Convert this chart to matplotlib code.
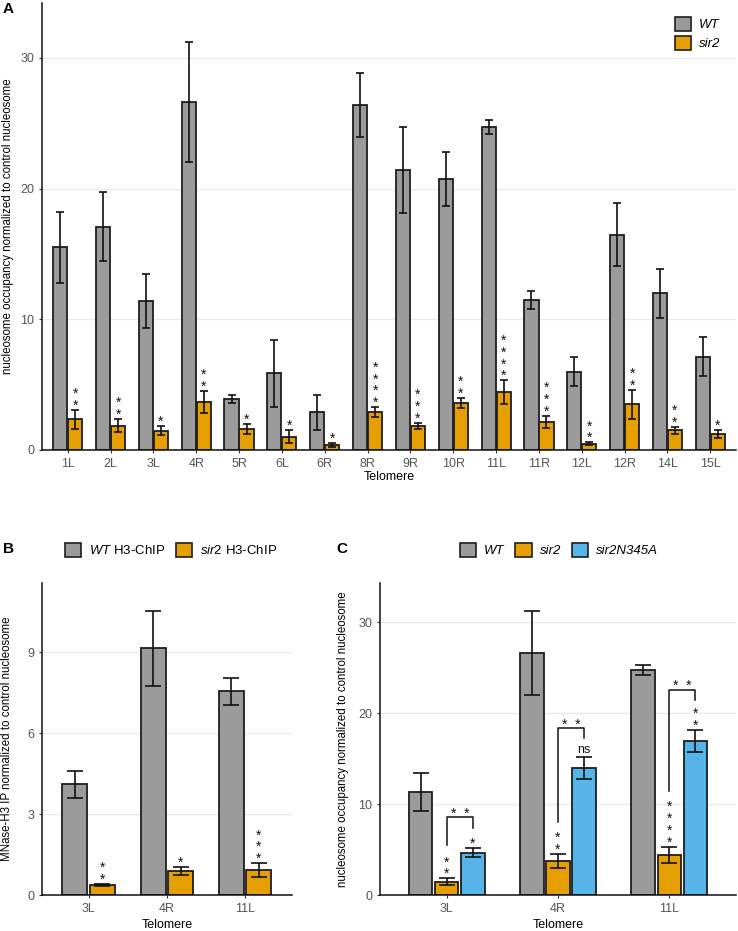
import matplotlib
matplotlib.use("Agg")
import matplotlib.pyplot as plt
import numpy as np
from matplotlib.patches import Patch

plt.rcParams['font.family'] = ['Liberation Sans', 'DejaVu Sans']
plt.rcParams['mathtext.fontset'] = 'custom'
plt.rcParams['mathtext.it'] = 'Liberation Sans:italic'
plt.rcParams['mathtext.rm'] = 'Liberation Sans'

# ---------------- Panel A data ----------------
a_cats = ["1L", "2L", "3L", "4R", "5R", "6L", "6R", "8R", "9R", "10R", "11L", "11R", "12L", "12R", "14L", "15L"]
a_wt = [15.5, 17.1, 11.4, 26.6, 3.88, 5.87, 2.89, 26.4, 21.44, 20.75, 24.73, 11.46, 5.97, 16.46, 12.0, 7.15]
a_wt_err = [2.7, 2.67, 2.05, 4.6, 0.31, 2.58, 1.33, 2.48, 3.27, 2.07, 0.54, 0.69, 1.11, 2.41, 1.88, 1.48]
a_sir2 = [2.35, 1.86, 1.48, 3.68, 1.61, 1.0, 0.38, 2.89, 1.86, 3.6, 4.42, 2.14, 0.48, 3.5, 1.51, 1.22]
a_sir2_err = [0.72, 0.49, 0.35, 0.84, 0.37, 0.5, 0.18, 0.38, 0.24, 0.36, 0.9, 0.47, 0.1, 1.1, 0.28, 0.29]
a_sig = ["**", "**", "*", "**", "*", "*", "*", "****", "***", "**", "****", "***", "**", "**", "**", "*"]
a_ticks = [0, 10, 20, 30]

# ---------------- Panel B data ----------------
b_cats = ["3L", "4R", "11L"]
b_wt = [4.1, 9.14, 7.54]
b_wt_err = [0.5, 1.38, 0.49]
b_sir2 = [0.37, 0.89, 0.93]
b_sir2_err = [0.04, 0.16, 0.25]
b_sig = ["**", "*", "***"]
b_ticks = [0, 3, 6, 9]

# ---------------- Panel C data ----------------
c_cats = ["3L", "4R", "11L"]
c_wt = [11.37, 26.62, 24.75]
c_wt_err = [2.08, 4.62, 0.55]
c_sir2 = [1.47, 3.7, 4.43]
c_sir2_err = [0.36, 0.78, 0.88]
c_n345a = [4.66, 13.97, 16.98]
c_n345a_err = [0.52, 1.18, 1.21]
c_sig_sir2 = ["**", "**", "****"]
c_sig_n345a = ["*", "ns", "**"]
c_cmp_label = ["**", "**", "**"]
c_bracket_left = [5.5, 8.0, 11.44]
c_bracket_right = [7.34, 17.24, 21.5]
c_bracket_top = [8.55, 18.34, 22.6]
c_ticks = [0, 10, 20, 30]

GRAY = "#9B9B9B"
ORANGE = "#E69F00"
BLUE = "#56B4E9"
EDGE = "#1E1E1E"
TICKC = "#555555"

W, H = 738, 931
fig = plt.figure(figsize=(W / 100, H / 100), dpi=100)


def px_axes(l, r, t, b):
    return fig.add_axes([l / W, 1 - b / H, (r - l) / W, (b - t) / H])


def style(ax, ticks, ymax):
    ax.set_ylim(0, ymax)
    ax.set_yticks(ticks)
    ax.grid(axis='y', color='#EBEBEB', linewidth=1.0)
    ax.set_axisbelow(True)
    for s in ['top', 'right']:
        ax.spines[s].set_visible(False)
    for s in ['left', 'bottom']:
        ax.spines[s].set_color('#111111')
        ax.spines[s].set_linewidth(1.1)
    ax.tick_params(axis='both', length=2.5, width=0.8, color='#333333',
                   labelcolor=TICKC, labelsize=9, pad=3)


def stack_stars(ax, x, y, s, fs=10):
    if s == "ns":
        ax.annotate("ns", (x, y), xytext=(0, 1), textcoords='offset points',
                    ha='center', va='bottom', fontsize=9, color='#111111')
        return
    txt = "\n".join(list(s))
    ax.annotate(txt, (x, y), xytext=(0, -2), textcoords='offset points',
                ha='center', va='bottom', fontsize=fs, linespacing=0.8, color='#111111')


def bars(ax, x, vals, errs, color, width, capsize):
    ax.bar(x, vals, width=width, color=color, edgecolor=EDGE, linewidth=1.3, zorder=2)
    ax.errorbar(x, vals, yerr=errs, fmt='none', ecolor='#111111', elinewidth=1.2,
                capsize=capsize, capthick=1.2, zorder=3)


# ================= Panel A =================
axA = px_axes(42, 736, 3, 450)
xa = np.arange(len(a_cats))
off = 0.175
bars(axA, xa - off, a_wt, a_wt_err, GRAY, 0.33, 3)
bars(axA, xa + off, a_sir2, a_sir2_err, ORANGE, 0.33, 3)
for i in range(len(a_cats)):
    stack_stars(axA, xa[i] + off, a_sir2[i] + a_sir2_err[i], a_sig[i])
axA.set_xlim(-0.6, len(a_cats) - 0.4)
style(axA, a_ticks, 34.2)
axA.set_xticks(xa)
axA.set_xticklabels(a_cats)
axA.set_xlabel("Telomere", fontsize=9)
axA.xaxis.set_label_coords(0.5, -0.047)
axA.set_ylabel("nucleosome occupancy normalized to control nucleosome", fontsize=8.3)
axA.yaxis.set_label_coords(-0.040, 0.5)
axA.legend(handles=[Patch(facecolor=GRAY, edgecolor=EDGE, linewidth=1.2, label="WT"),
                    Patch(facecolor=ORANGE, edgecolor=EDGE, linewidth=1.2, label="sir2")],
           loc='upper left', bbox_to_anchor=(668 / W, 1 - 10 / H), bbox_transform=fig.transFigure,
           frameon=False, prop={'style': 'italic', 'size': 9.5},
           handlelength=1.25, handleheight=1.25, handletextpad=0.6, labelspacing=0.35,
           borderpad=0)

# ================= Panel B =================
axB = px_axes(41.7, 292, 582.7, 895)
xb = np.arange(len(b_cats))
bars(axB, xb - off, b_wt, b_wt_err, GRAY, 0.32, 5.5)
bars(axB, xb + off, b_sir2, b_sir2_err, ORANGE, 0.32, 5.5)
for i in range(len(b_cats)):
    stack_stars(axB, xb[i] + off, b_sir2[i] + b_sir2_err[i], b_sig[i])
axB.set_xlim(-0.6, len(b_cats) - 0.4)
style(axB, b_ticks, 11.57)
axB.set_xticks(xb)
axB.set_xticklabels(b_cats)
axB.set_xlabel("Telomere", fontsize=9)
axB.xaxis.set_label_coords(0.5, -0.078)
axB.set_ylabel("MNase-H3 IP normalized to control nucleosome", fontsize=8.3)
axB.yaxis.set_label_coords(-0.116, 0.5)
fig.legend(handles=[Patch(facecolor=GRAY, edgecolor=EDGE, linewidth=1.2, label=r"$\mathit{WT}$ H3-ChIP"),
                    Patch(facecolor=ORANGE, edgecolor=EDGE, linewidth=1.2, label=r"$\mathit{sir2}$ H3-ChIP")],
           loc='center', bbox_to_anchor=(171 / W, 1 - 550 / H), ncol=2, frameon=False,
           prop={'size': 9.5}, handlelength=1.25, handleheight=1.25, handletextpad=0.6,
           columnspacing=0.8, borderpad=0)

# ================= Panel C =================
axC = px_axes(380, 736, 582.7, 895)
xc = np.arange(len(c_cats))
o3 = 0.235
bars(axC, xc - o3, c_wt, c_wt_err, GRAY, 0.21, 5.5)
bars(axC, xc, c_sir2, c_sir2_err, ORANGE, 0.21, 5.5)
bars(axC, xc + o3, c_n345a, c_n345a_err, BLUE, 0.21, 5.5)
for i in range(len(c_cats)):
    stack_stars(axC, xc[i], c_sir2[i] + c_sir2_err[i], c_sig_sir2[i])
    stack_stars(axC, xc[i] + o3, c_n345a[i] + c_n345a_err[i], c_sig_n345a[i])
    xl, xr = xc[i], xc[i] + o3
    axC.plot([xl, xl, xr, xr], [c_bracket_left[i], c_bracket_top[i], c_bracket_top[i], c_bracket_right[i]],
             color='#111111', linewidth=1.1, zorder=4)
    axC.annotate("  ".join(list(c_cmp_label[i])), ((xl + xr) / 2, c_bracket_top[i]),
                 xytext=(0, -2.5), textcoords='offset points', ha='center', va='bottom',
                 fontsize=10, color='#111111')
axC.set_xlim(-0.6, len(c_cats) - 0.4)
style(axC, c_ticks, 34.36)
axC.set_xticks(xc)
axC.set_xticklabels(c_cats)
axC.set_xlabel("Telomere", fontsize=9)
axC.xaxis.set_label_coords(0.5, -0.078)
axC.set_ylabel("nucleosome occupancy normalized to control nucleosome", fontsize=8.3)
axC.yaxis.set_label_coords(-0.086, 0.5)
fig.legend(handles=[Patch(facecolor=GRAY, edgecolor=EDGE, linewidth=1.2, label="WT"),
                    Patch(facecolor=ORANGE, edgecolor=EDGE, linewidth=1.2, label="sir2"),
                    Patch(facecolor=BLUE, edgecolor=EDGE, linewidth=1.2, label="sir2N345A")],
           loc='center', bbox_to_anchor=(559 / W, 1 - 550 / H), ncol=3, frameon=False,
           prop={'style': 'italic', 'size': 9.5}, handlelength=1.25, handleheight=1.25,
           handletextpad=0.6, columnspacing=0.8, borderpad=0)

# panel letters
fig.text(3 / W, 1 - 9 / H, "A", fontsize=11, fontweight='bold', va='center', ha='left')
fig.text(3 / W, 1 - 549 / H, "B", fontsize=11, fontweight='bold', va='center', ha='left')
fig.text(336 / W, 1 - 549 / H, "C", fontsize=11, fontweight='bold', va='center', ha='left')

fig.savefig("out.png", dpi=100)
